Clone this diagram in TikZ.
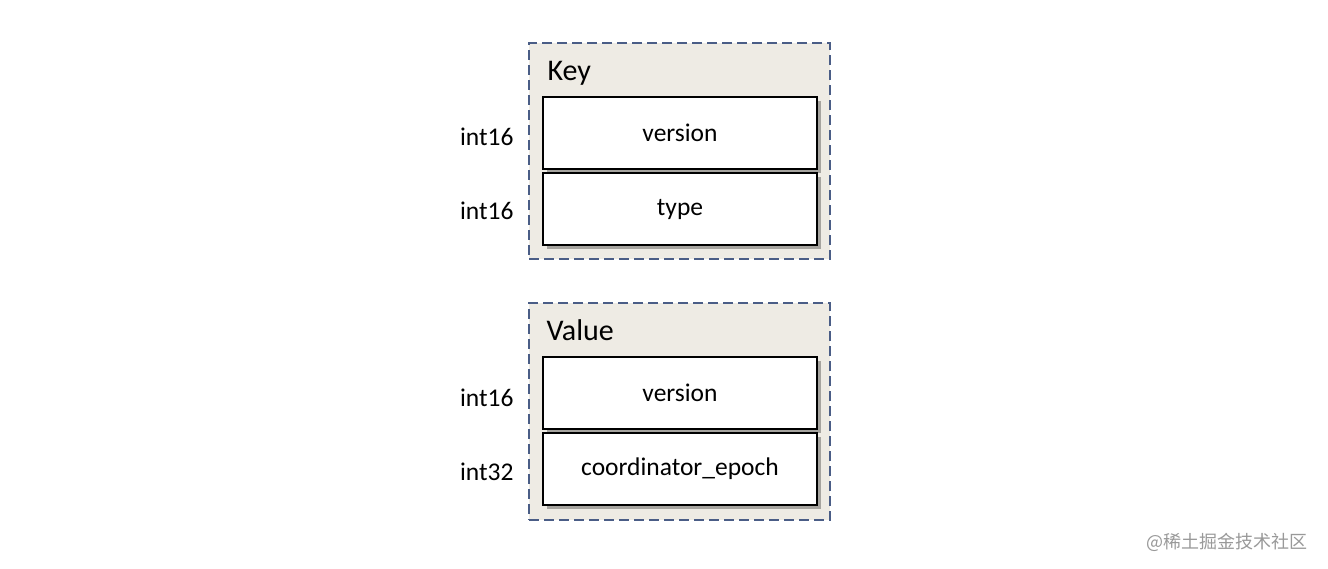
\documentclass[tikz,border=0pt]{standalone}
\usepackage{fontspec}
\setmainfont{Carlito}
\newfontfamily\cjkfont{Noto Sans CJK SC}
\usetikzlibrary{shadows}
\definecolor{boxfill}{HTML}{EEEBE4}
\definecolor{dashcol}{HTML}{4A5D86}
\tikzset{
  group/.style={draw=dashcol, fill=boxfill, line width=2pt, dash pattern=on 10pt off 5pt, minimum width=301pt, minimum height=216pt, inner sep=0pt},
  field/.style={draw=black, fill=white, line width=2.2pt, minimum width=274pt, minimum height=72pt, inner sep=0pt,
    drop shadow={shadow xshift=4pt, shadow yshift=-4pt, fill=black, opacity=0.3}, font=\fontsize{25.5}{30}\selectfont},
  tlabel/.style={anchor=east, font=\fontsize{25.5}{30}\selectfont},
  glabel/.style={anchor=base west, font=\fontsize{30}{34}\selectfont}
}
\begin{document}
\begin{tikzpicture}[x=1pt,y=-1pt]
\useasboundingbox[fill=white] (0,0) rectangle (1328,568);
% Key group
\node[group] (keybox) at (679.5,151) {};
\node[glabel] (keylbl) at (544,80) {Key};
\node[field] (kver) at (680,133) {version};
\node[field] (ktype) at (680,209) {type};
\node[tlabel] (kverl) at (517,137) {int16};
\node[tlabel] (ktypel) at (517,211) {int16};
% Value group
\node[group, minimum height=217pt] (valbox) at (679.5,411.5) {};
\node[glabel] (vallbl) at (543,340) {Value};
\node[field] (vver) at (680,393) {version};
\node[field] (vepoch) at (680,469) {coordinator\_epoch};
\node[tlabel] (vverl) at (517,398) {int16};
\node[tlabel] (vepochl) at (517,472) {int32};
% watermark
\node[anchor=east, text=black!40, font=\cjkfont\fontsize{18}{20}\selectfont] (wm) at (1311,542) {@稀土掘金技术社区};
\end{tikzpicture}
\end{document}
